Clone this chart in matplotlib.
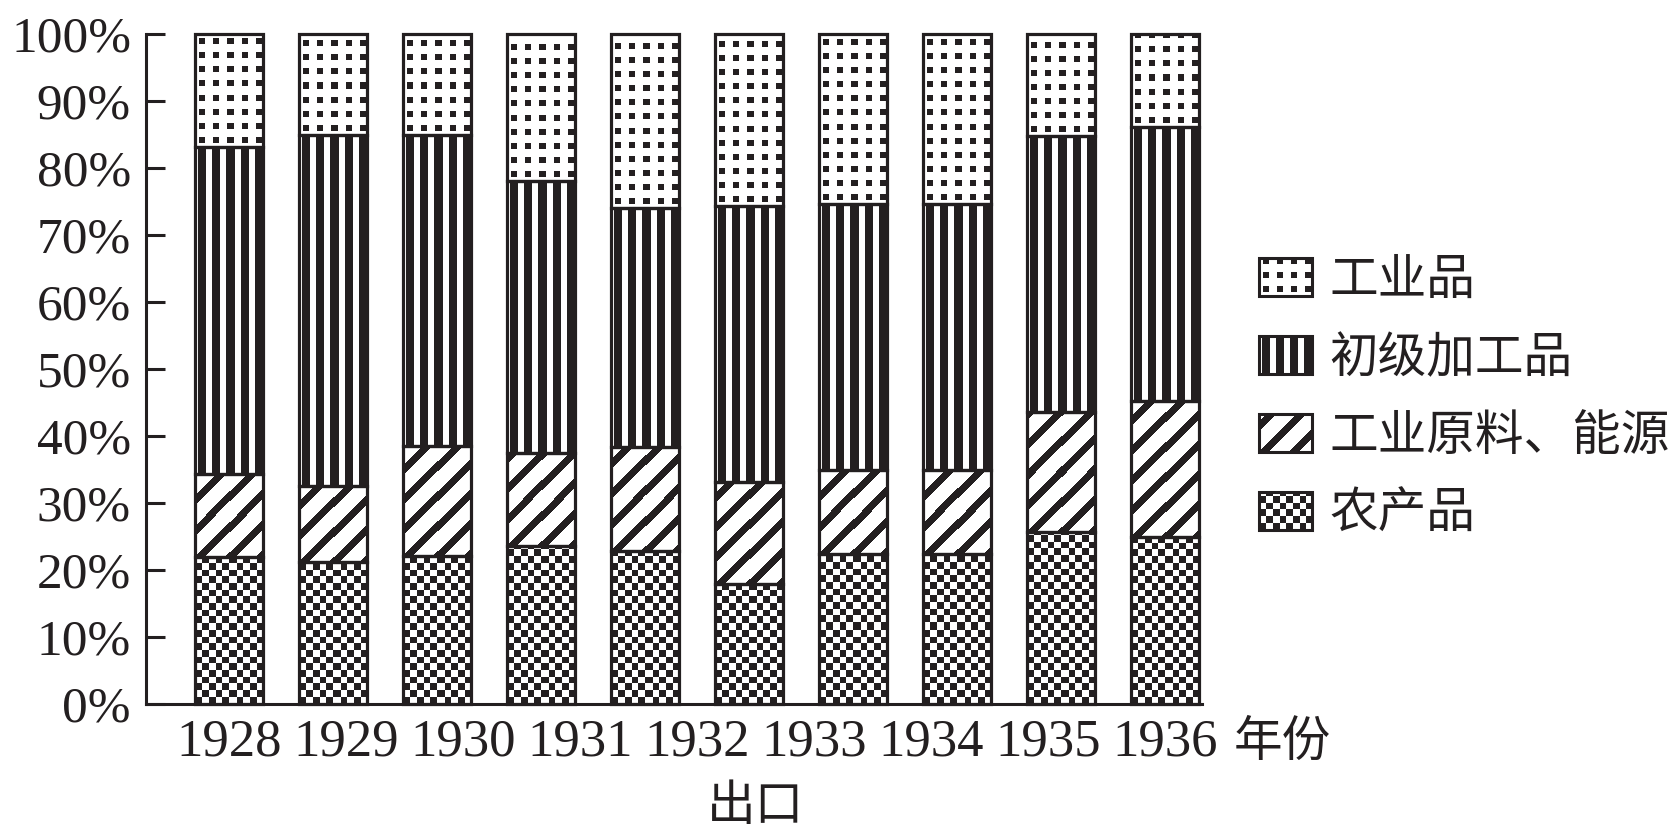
import numpy as np
import matplotlib
matplotlib.use('Agg')
import matplotlib.pyplot as plt
from matplotlib.colors import ListedColormap, Normalize
from matplotlib.legend_handler import HandlerBase
from matplotlib.image import BboxImage
from matplotlib.transforms import Bbox, TransformedBbox
from matplotlib.patches import Rectangle

# ---------------- data ----------------
years = ['1928', '1929', '1930', '1931', '1932', '1933', '1934', '1935', '1936']
x_unit_label = '年份'
x_title = '出口'
categories = ['农产品', '工业原料、能源', '初级加工品', '工业品']
agri = [21.9, 21.2, 22.1, 23.6, 22.8, 17.9, 22.3, 22.3, 25.7, 24.9]
raw = [12.4, 11.3, 16.4, 13.8, 15.6, 15.2, 12.6, 12.6, 17.8, 20.3]
processed = [48.8, 52.5, 46.4, 40.6, 35.6, 41.2, 39.8, 39.8, 41.3, 40.9]
industrial = [16.9, 15.0, 15.1, 22.0, 26.0, 25.7, 25.3, 25.3, 15.2, 13.9]
y_ticks = [0, 10, 20, 30, 40, 50, 60, 70, 80, 90, 100]

# ---------------- style ----------------
INK = '#231f20'
DPI = 100
CJK = 'Noto Sans CJK SC'
CJK_SIZE = 35
CJK_PX = CJK_SIZE * DPI / 72
plt.rcParams['font.family'] = ['Liberation Serif', CJK]
plt.rcParams['text.color'] = INK

cmap = ListedColormap([INK, 'white'])
norm = Normalize(0, 1)


def pattern(kind, h, w):
    i = np.arange(h)[:, None] + np.zeros((1, w))
    j = np.arange(w)[None, :] + np.zeros((h, 1))
    if kind == 'checker':
        black = (np.floor(i / 6.7) + np.floor(j / 6.7)) % 2 == 0
    elif kind == 'diag':
        black = ((j - i) % 30) < 9.5
    elif kind == 'vert':
        black = ((j - 3) % 14) < 8
    else:  # dots
        black = (((j - 4) % 14) < 6) & (((i - 4) % 14) < 6)
    return np.where(black, 0.0, 1.0)


class TextureHandler(HandlerBase):
    def __init__(self, kind):
        super().__init__()
        self.kind = kind

    def create_artists(self, legend, orig_handle, xdescent, ydescent,
                       width, height, fontsize, trans):
        bb = Bbox.from_bounds(-xdescent, -ydescent, width, height)
        pw = max(int(round(width * DPI / 72)), 1)
        ph = max(int(round(height * DPI / 72)), 1)
        img = BboxImage(TransformedBbox(bb, trans), cmap=cmap, norm=norm,
                        interpolation='nearest', origin='lower')
        img.set_data(pattern(self.kind, ph, pw))
        rect = Rectangle((-xdescent, -ydescent), width, height,
                         facecolor='none', edgecolor=INK, linewidth=2.2,
                         transform=trans)
        return [img, rect]


fig = plt.figure(figsize=(16.8, 8.4), dpi=DPI)
W, H = 1680, 840
ax = fig.add_axes([146 / W, 1 - 703.6 / H, (1202 - 146) / W, (703.6 - 34.2) / H])

x = np.arange(len(agri))
width = 0.654
series = [agri, raw, processed, industrial]
kinds = ['checker', 'diag', 'vert', 'dots']
bottom = np.zeros(len(agri))
containers = []
for vals, label in zip(series, categories):
    bc = ax.bar(x, vals, width, bottom=bottom, facecolor='none', edgecolor=INK,
                linewidth=2.3, label=label, zorder=3, clip_on=False)
    containers.append(bc)
    bottom = bottom + np.array(vals)

xlim = (-0.798, 9.356)
ax.set_xlim(*xlim)
ax.set_ylim(0, 100)

# textures inside each bar segment
for bc, kind in zip(containers, kinds):
    for p in bc.patches:
        bb = p.get_bbox()
        (px0, py0), (px1, py1) = ax.transData.transform([[bb.x0, bb.y0], [bb.x1, bb.y1]])
        pw = max(int(round(px1 - px0)), 1)
        ph = max(int(round(py1 - py0)), 1)
        ax.imshow(pattern(kind, ph, pw), extent=(bb.x0, bb.x1, bb.y0, bb.y1),
                  origin='lower', cmap=cmap, norm=norm, interpolation='nearest',
                  aspect='auto', zorder=2)
ax.set_xlim(*xlim)
ax.set_ylim(0, 100)

# axes styling
for s in ['top', 'right']:
    ax.spines[s].set_visible(False)
for s in ['left', 'bottom']:
    ax.spines[s].set_linewidth(2.2)
    ax.spines[s].set_color(INK)

ticks = np.linspace(x[0], x[-1], len(years))
ax.set_xticks(ticks)
ax.set_xticklabels(years)
ax.tick_params(axis='x', length=0, pad=11, labelsize=38, labelcolor=INK)
ax.set_yticks(y_ticks)
ax.set_yticklabels([f'{v}%' for v in y_ticks])
ax.tick_params(axis='y', direction='in', length=13.7, width=2.2, pad=10.8,
               labelsize=37, color=INK, labelcolor=INK)

step = ticks[1] - ticks[0]
unit_x = ticks[-1] + step
ax.annotate(x_unit_label, xy=(unit_x, 0), xycoords=('data', 'axes fraction'),
            xytext=(0, -10), textcoords='offset points', ha='center', va='top',
            fontsize=CJK_SIZE, family=[CJK], annotation_clip=False)
ax.annotate(x_title, xy=((ticks[0] + unit_x) / 2, 0), xycoords=('data', 'axes fraction'),
            xytext=(0, -56), textcoords='offset points', ha='center', va='top',
            fontsize=CJK_SIZE, family=[CJK], annotation_clip=False)

handler_map = {bc: TextureHandler(k) for bc, k in zip(containers, kinds)}
leg = ax.legend(containers[::-1], categories[::-1], handler_map=handler_map,
                loc='center left', bbox_to_anchor=(1259 / W, 1 - 397 / H),
                bbox_transform=fig.transFigure, frameon=False, borderpad=0,
                borderaxespad=0,
                prop={'family': [CJK], 'size': CJK_SIZE},
                handlelength=53 / CJK_PX, handleheight=40 / CJK_PX,
                handletextpad=17 / CJK_PX, labelspacing=0.585)

fig.savefig('out.png', dpi=DPI)
